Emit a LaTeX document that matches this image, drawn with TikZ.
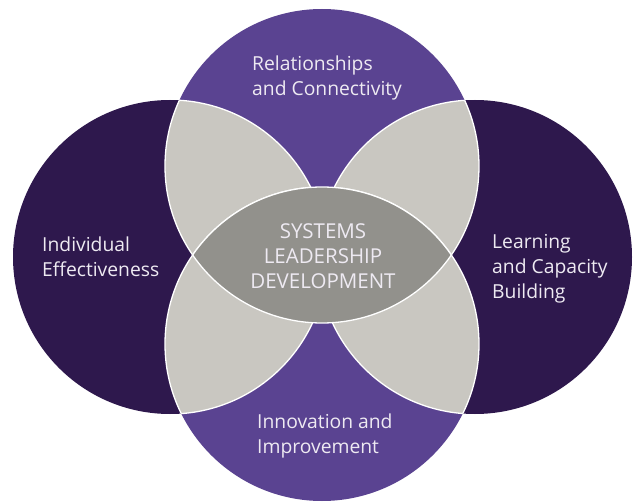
\documentclass[tikz,border=0pt]{standalone}
\usepackage{fontspec}
\setmainfont{Open Sans}
\definecolor{midpurple}{HTML}{5A4391}
\definecolor{darkpurple}{HTML}{2E184D}
\definecolor{lightgray}{HTML}{C9C7C1}
\definecolor{lensgray}{HTML}{92918C}
\definecolor{labeltext}{HTML}{EEEAF2}
\tikzset{
  label/.style={text=labeltext, font=\fontsize{19.3}{25}\selectfont, align=left, inner sep=0pt, anchor=west},
  outline/.style={draw=white, line width=1.3pt}
}
\begin{document}
\begin{tikzpicture}[x=1pt,y=-1pt]
\useasboundingbox (0,0) rectangle (633,503);
\def\R{157pt}
\coordinate (T) at (322,166);
\coordinate (B) at (322,344);
\coordinate (L) at (170,257);
\coordinate (Rc) at (475,257);
% base circles
\fill[midpurple] (T) circle[radius=\R];
\fill[midpurple] (B) circle[radius=\R];
\fill[darkpurple] (L) circle[radius=\R];
\fill[darkpurple] (Rc) circle[radius=\R];
% pairwise overlaps
\foreach \a in {T,B}{
  \foreach \b in {L,Rc}{
    \begin{scope}
      \clip (\a) circle[radius=\R];
      \fill[lightgray] (\b) circle[radius=\R];
      \draw[outline] (\b) circle[radius=\R];
    \end{scope}
    \begin{scope}
      \clip (\b) circle[radius=\R];
      \draw[outline] (\a) circle[radius=\R];
    \end{scope}
  }
}
% central lens
\begin{scope}
  \clip (T) circle[radius=\R];
  \fill[lensgray] (B) circle[radius=\R];
  \draw[outline] (B) circle[radius=\R];
\end{scope}
\begin{scope}
  \clip (B) circle[radius=\R];
  \draw[outline] (T) circle[radius=\R];
\end{scope}
% labels
\node[label] (rel) at (252,78) {Relationships\\and Connectivity};
\node[label] (ind) at (42,257) {Individual\\Effectiveness};
\node[label] (lcb) at (492,269) {Learning\\and Capacity\\Building};
\node[label] (inn) at (257,436) {Innovation and\\Improvement};
\node[label, font=\fontsize{20.5}{25}\selectfont, align=center, anchor=center] (sld) at (323,256) {SYSTEMS\\LEADERSHIP\\DEVELOPMENT};
\end{tikzpicture}
\end{document}
